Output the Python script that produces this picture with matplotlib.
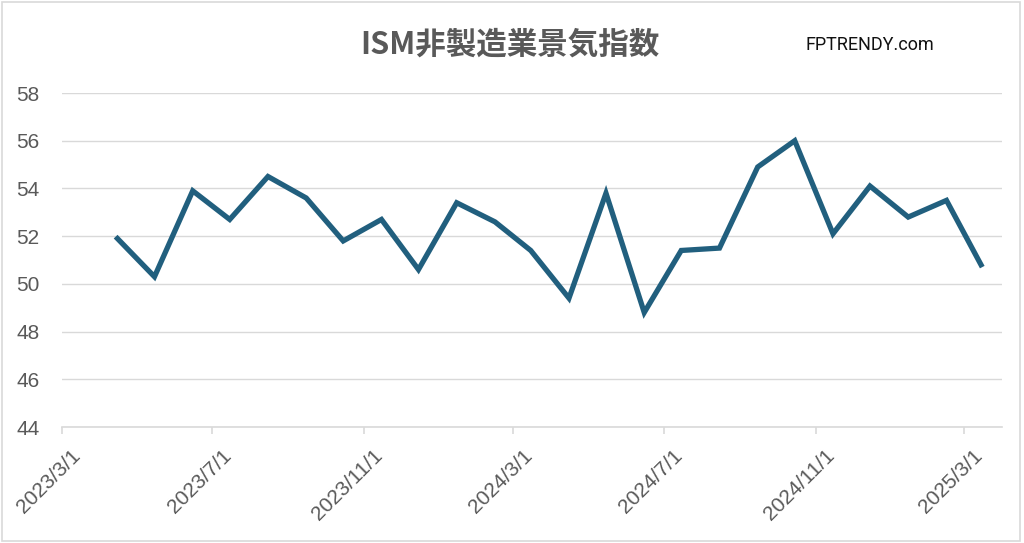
import matplotlib
matplotlib.use('Agg')

import pandas as pd
import matplotlib.pyplot as plt
import matplotlib.transforms as mtransforms
from matplotlib.patches import Rectangle

# ISM services PMI, monthly Apr 2023 - Mar 2025 (plotted mid-month)
months = pd.date_range("2023-04-01", periods=24, freq="MS") + pd.Timedelta(days=14)
pmi = [51.9, 50.3, 53.9, 52.7, 54.5, 53.6, 51.8, 52.7, 50.6, 53.4, 52.6, 51.4,
       49.4, 53.8, 48.8, 51.4, 51.5, 54.9, 56.0, 52.1, 54.1, 52.8, 53.5, 50.8]

tick_dates = pd.date_range("2023-03-01", "2025-03-01", freq="4MS")
y_ticks = [44, 46, 48, 50, 52, 54, 56, 58]

title = "ISM非製造業景気指数"
watermark = "FPTRENDY.com"

plt.rcParams['font.family'] = ['Noto Sans CJK JP', 'DejaVu Sans']

fig = plt.figure(figsize=(10.24, 5.43), dpi=100)
ax = fig.add_axes([0.0605, 0.2136, 0.918, 0.6151])

ax.plot(months, pmi, color='#215f7e', linewidth=3.8, solid_joinstyle='miter', zorder=3)

ax.set_xlim(pd.Timestamp("2023-03-01"), pd.Timestamp("2025-04-01"))
ax.set_ylim(44, 58)
ax.set_yticks(y_ticks)
ax.set_xticks(tick_dates)
ax.set_xticklabels([])
for lab in ax.get_yticklabels():
    lab.set_family(['Liberation Sans', 'DejaVu Sans'])

# date labels drawn as texts so they can sit offset like Excel's
label_trans = ax.get_xaxis_transform() + mtransforms.ScaledTranslation(
    0.09, -0.19, fig.dpi_scale_trans)
for d in tick_dates:
    ax.text(d, 0, f"{d.year}/{d.month}/{d.day}", transform=label_trans,
            rotation=45, ha='right', va='top', rotation_mode='anchor',
            fontsize=15, color='#595959', family=['Liberation Sans', 'DejaVu Sans'])

ax.grid(axis='y', color='#d9d9d9', linewidth=1)
ax.set_axisbelow(True)
for s in ['top', 'right', 'left']:
    ax.spines[s].set_visible(False)
ax.spines['bottom'].set_color('#d9d9d9')
ax.spines['bottom'].set_linewidth(1.2)
ax.tick_params(axis='y', length=0, pad=16, labelsize=15, labelcolor='#595959')
ax.tick_params(axis='x', length=5, color='#d9d9d9', width=1.2)

fig.text(0.498, 0.917, title, ha='center', va='center', fontsize=22,
         fontweight='bold', color='#595959')
fig.text(0.849, 0.917, watermark, ha='center', va='center', fontsize=13,
         color='#111111', family=['Roboto', 'DejaVu Sans'])

fig.patches.append(Rectangle((0.002, 0.003), 0.994, 0.994, transform=fig.transFigure,
                             fill=False, edgecolor='#d9d9d9', linewidth=1.2))

fig.savefig("out.png", dpi=100)
